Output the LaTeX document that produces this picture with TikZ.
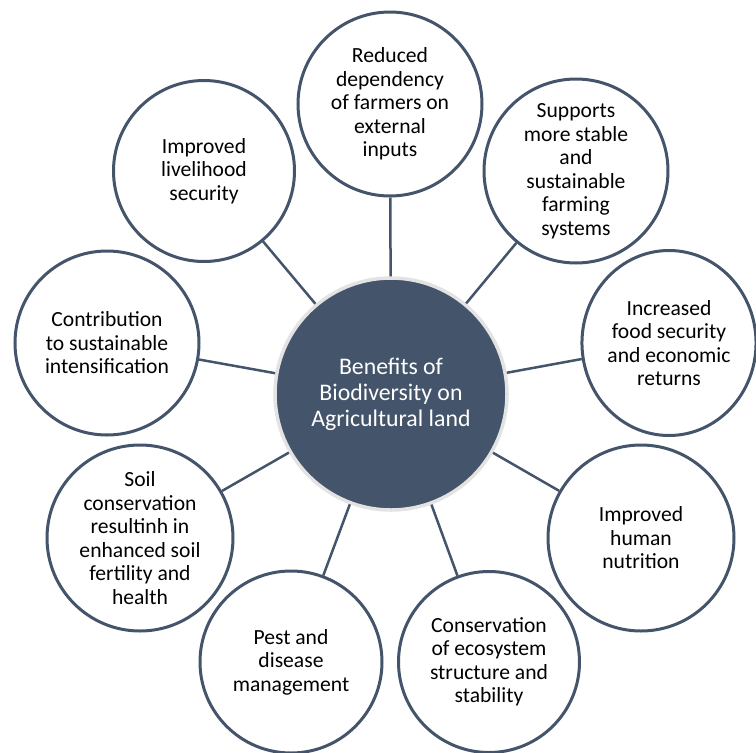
\documentclass[tikz,border=0pt]{standalone}
\usepackage{fontspec}
\setmainfont{Carlito}
\usetikzlibrary{shapes.geometric}
\definecolor{slate}{HTML}{44546A}
\definecolor{halo}{HTML}{E3E3E3}
\begin{document}
\begin{tikzpicture}[x=1pt,y=-1pt,
  benefit/.style={draw=slate,line width=3pt,circle,fill=white,minimum size=184pt,inner sep=0pt,align=center,font=\fontsize{21.6}{23.5}\selectfont},
  hub/.style={draw=halo,line width=3.5pt,circle,fill=slate,text=white,minimum size=232pt,inner sep=0pt,align=center,font=\fontsize{23.8}{26}\selectfont},
  link/.style={draw=slate,line width=2.5pt}]
\useasboundingbox (0,0) rectangle (756,753);
\node[hub] (hub) at (391,394) {Benefits of\\Biodiversity on\\Agricultural land};
\node[benefit] (dep) at (390,104) {Reduced\\dependency\\of farmers on\\external\\inputs};
\node[benefit] (stab) at (576,171) {Supports\\more stable\\and\\sustainable\\farming\\systems};
\node[benefit,ellipse,minimum width=172pt,minimum height=185pt] (food) at (669,343) {Increased\\food security\\and economic\\returns};
\node[benefit,minimum size=186pt] (nutr) at (641,538) {Improved\\human\\nutrition};
\node[benefit,minimum size=181pt] (eco) at (489,662) {Conservation\\of ecosystem\\structure and\\stability};
\node[benefit,minimum size=182pt] (pest) at (291,662) {Pest and\\disease\\management};
\node[benefit,minimum size=186pt] (soil) at (140,538) {Soil\\conservation\\resultinh in\\enhanced soil\\fertility and\\health};
\node[benefit] (intens) at (107,343) {Contribution\\to sustainable\\intensification};
\node[benefit,minimum size=181pt] (liveli) at (204,171) {Improved\\livelihood\\security};
\draw[link] (hub) -- (dep);
\draw[link] (hub) -- (stab);
\draw[link] (hub) -- (food);
\draw[link] (hub) -- (nutr);
\draw[link] (hub) -- (eco);
\draw[link] (hub) -- (pest);
\draw[link] (hub) -- (soil);
\draw[link] (hub) -- (intens);
\draw[link] (hub) -- (liveli);
\end{tikzpicture}
\end{document}
